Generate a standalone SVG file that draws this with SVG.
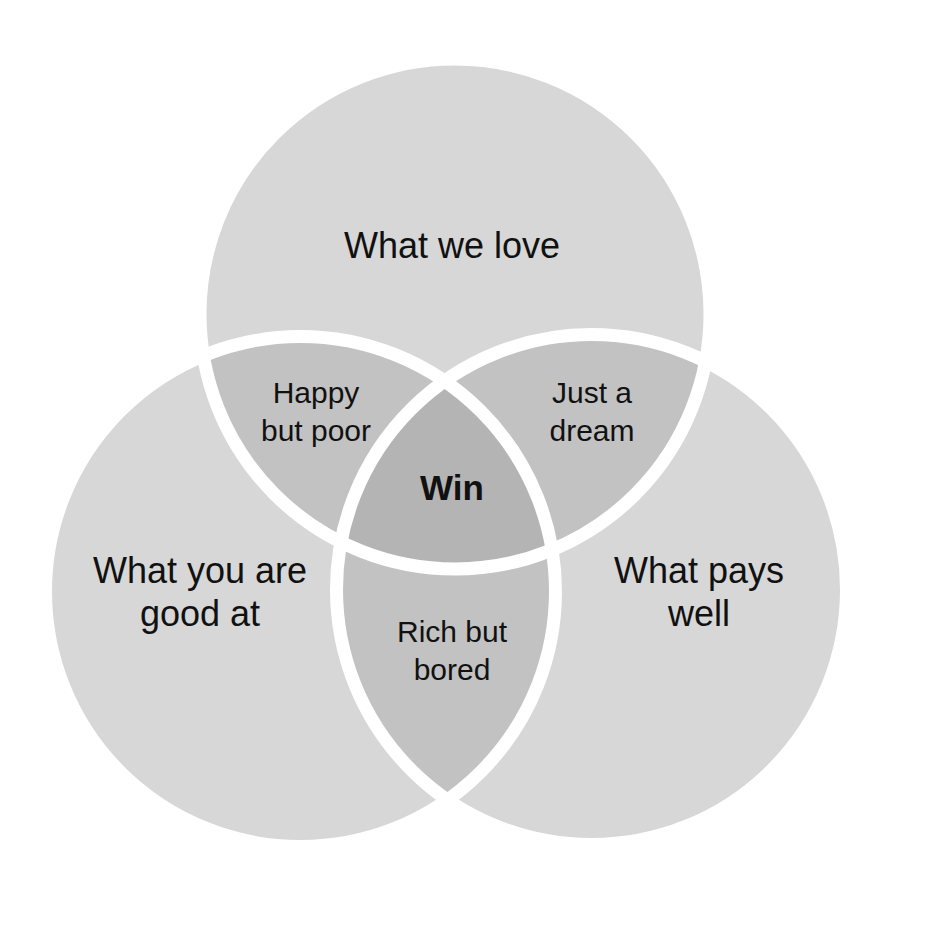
<svg xmlns="http://www.w3.org/2000/svg" width="937" height="939" viewBox="0 0 937 939">
<style>
.s1{fill:#d7d7d7}
.s2{fill:#c2c2c2}
.s3{fill:#b4b4b4}
.edge{fill:none;stroke:#ffffff;stroke-width:13}
text{font-family:"Liberation Sans",Arial,Helvetica,sans-serif;fill:#111;text-anchor:middle}
.big{font-size:36px}
.mid{font-size:30px}
.win{font-size:35px;font-weight:bold}
</style>
<defs>
<circle id="ct" cx="455" cy="314" r="255"/>
<circle id="cl" cx="300.5" cy="591.5" r="255"/>
<circle id="cr" cx="591.5" cy="589.5" r="255"/>
<clipPath id="clipT"><use href="#ct"/></clipPath>
<clipPath id="clipL"><use href="#cl"/></clipPath>
</defs>
<rect width="937" height="939" fill="#ffffff"/>
<g id="what-we-love">
<use href="#ct" class="s1"/>
<text class="big" x="452" y="258">What we love</text>
</g>
<g id="what-you-are-good-at">
<use href="#cl" class="s1"/>
<text class="big" x="200" y="583">What you are</text>
<text class="big" x="200" y="626">good at</text>
</g>
<g id="what-pays-well">
<use href="#cr" class="s1"/>
<text class="big" x="699" y="583">What pays</text>
<text class="big" x="699" y="626">well</text>
</g>
<g id="happy-but-poor">
<use href="#cl" class="s2" clip-path="url(#clipT)"/>
<text class="mid" x="316" y="403">Happy</text>
<text class="mid" x="316" y="441">but poor</text>
</g>
<g id="just-a-dream">
<use href="#cr" class="s2" clip-path="url(#clipT)"/>
<text class="mid" x="592" y="403">Just a</text>
<text class="mid" x="592" y="441">dream</text>
</g>
<g id="rich-but-bored">
<use href="#cr" class="s2" clip-path="url(#clipL)"/>
<text class="mid" x="452" y="642">Rich but</text>
<text class="mid" x="452" y="680">bored</text>
</g>
<g id="win">
<g clip-path="url(#clipT)"><use href="#cr" class="s3" clip-path="url(#clipL)"/></g>
<text class="win" x="452" y="500">Win</text>
</g>
<g id="connectors">
<use href="#ct" class="edge"/>
<use href="#cl" class="edge"/>
<use href="#cr" class="edge"/>
</g>
</svg>
